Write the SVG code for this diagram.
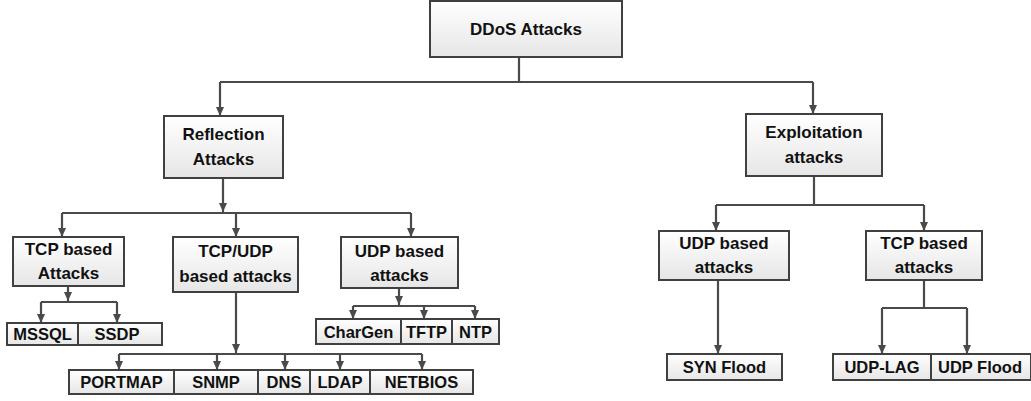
<svg xmlns="http://www.w3.org/2000/svg" width="1031" height="401" viewBox="0 0 1031 401">
<defs>
<linearGradient id="g" x1="0" y1="0" x2="0" y2="1">
<stop offset="0" stop-color="#ffffff"/>
<stop offset="1" stop-color="#e6e6e6"/>
</linearGradient>
<marker id="ah" markerWidth="9" markerHeight="8" refX="9" refY="4" orient="auto" markerUnits="userSpaceOnUse" viewBox="0 0 9 8">
<path d="M0 0 L9 4 L0 8 Z" fill="#4a4a4a"/>
</marker>
</defs>
<style>
.box{fill:url(#g);stroke:#404040;stroke-width:2}
.t{font-family:"Liberation Sans",Arial,sans-serif;font-weight:bold;font-size:17px;fill:#111;text-anchor:middle}
.s{font-size:16.5px}
.c{fill:none;stroke:#4a4a4a;stroke-width:2.2}
.a{fill:none;stroke:#4a4a4a;stroke-width:2.2;marker-end:url(#ah)}
</style>
<rect width="1031" height="401" fill="#ffffff"/>
<g id="connectors">
<path class="c" d="M519 57 V82 H813"/>
<path class="c" d="M519 82 H220"/>
<path class="a" d="M220 82 V116"/>
<path class="a" d="M813 82 V114"/>
<path class="a" d="M223 178 V212"/>
<path class="c" d="M62 213 H411"/>
<path class="a" d="M62 213 V237"/>
<path class="a" d="M236 213 V237"/>
<path class="a" d="M411 213 V237"/>
<path class="a" d="M68 286 V301"/>
<path class="c" d="M41 302 H117"/>
<path class="a" d="M41 302 V323"/>
<path class="a" d="M117 302 V323"/>
<path class="a" d="M399 288 V305"/>
<path class="c" d="M353 306 H475"/>
<path class="a" d="M353 306 V319"/>
<path class="a" d="M424 306 V319"/>
<path class="a" d="M475 306 V319"/>
<path class="a" d="M236 292 V353"/>
<path class="c" d="M119 354 H422"/>
<path class="a" d="M119 354 V370"/>
<path class="a" d="M217 354 V370"/>
<path class="a" d="M285 354 V370"/>
<path class="a" d="M340 354 V370"/>
<path class="a" d="M422 354 V370"/>
<path class="c" d="M814 176 V205"/>
<path class="c" d="M716 205 H924"/>
<path class="a" d="M716 205 V231"/>
<path class="a" d="M924 205 V231"/>
<path class="a" d="M718 280 V354"/>
<path class="c" d="M924 280 V308"/>
<path class="c" d="M882 308 H967"/>
<path class="a" d="M882 308 V354"/>
<path class="a" d="M967 308 V354"/>
</g>
<g id="ddos"><rect class="box" x="430" y="1" width="192" height="56"/><text class="t" x="526" y="35">DDoS Attacks</text></g>
<g id="reflection"><rect class="box" x="164" y="116" width="119" height="62"/><text class="t" x="223.5" y="140">Reflection</text><text class="t" x="223.5" y="165">Attacks</text></g>
<g id="exploitation"><rect class="box" x="746" y="114" width="136" height="62"/><text class="t" x="814" y="138">Exploitation</text><text class="t" x="814" y="163">attacks</text></g>
<g id="tcp-based"><rect class="box" x="13" y="237" width="111" height="49"/><text class="t" x="68.5" y="255">TCP based</text><text class="t" x="68.5" y="279">Attacks</text></g>
<g id="tcpudp-based"><rect class="box" x="173" y="237" width="125" height="55"/><text class="t" x="235.5" y="257">TCP/UDP</text><text class="t" x="235.5" y="282">based attacks</text></g>
<g id="udp-based"><rect class="box" x="341" y="237" width="117" height="51"/><text class="t" x="399.5" y="257">UDP based</text><text class="t" x="399.5" y="281">attacks</text></g>
<g id="mssql"><rect class="box" x="7" y="323" width="71" height="22"/><text class="t s" x="42.5" y="340">MSSQL</text></g>
<g id="ssdp"><rect class="box" x="78" y="323" width="84" height="22"/><text class="t s" x="117" y="340">SSDP</text></g>
<g id="chargen"><rect class="box" x="316" y="319" width="85" height="25"/><text class="t s" x="358.5" y="338">CharGen</text></g>
<g id="tftp"><rect class="box" x="401" y="319" width="51" height="25"/><text class="t s" x="426.5" y="338">TFTP</text></g>
<g id="ntp"><rect class="box" x="452" y="319" width="47" height="25"/><text class="t s" x="475.5" y="338">NTP</text></g>
<g id="portmap"><rect class="box" x="69" y="370" width="105" height="24"/><text class="t s" x="121.5" y="388">PORTMAP</text></g>
<g id="snmp"><rect class="box" x="174" y="370" width="84" height="24"/><text class="t s" x="216" y="388">SNMP</text></g>
<g id="dns"><rect class="box" x="258" y="370" width="52" height="24"/><text class="t s" x="284" y="388">DNS</text></g>
<g id="ldap"><rect class="box" x="310" y="370" width="60" height="24"/><text class="t s" x="340" y="388">LDAP</text></g>
<g id="netbios"><rect class="box" x="370" y="370" width="103" height="24"/><text class="t s" x="421.5" y="388">NETBIOS</text></g>
<g id="udp-based-exp"><rect class="box" x="659" y="231" width="130" height="49"/><text class="t" x="724" y="249">UDP based</text><text class="t" x="724" y="273">attacks</text></g>
<g id="tcp-based-exp"><rect class="box" x="866" y="231" width="116" height="49"/><text class="t" x="924" y="249">TCP based</text><text class="t" x="924" y="273">attacks</text></g>
<g id="syn-flood"><rect class="box" x="667" y="354" width="115" height="26"/><text class="t s" x="724.5" y="373">SYN Flood</text></g>
<g id="udp-lag"><rect class="box" x="833" y="354" width="98" height="26"/><text class="t s" x="882" y="373">UDP-LAG</text></g>
<g id="udp-flood"><rect class="box" x="931" y="354" width="100" height="26"/><text class="t s" x="980" y="373">UDP Flood</text></g>
</svg>
